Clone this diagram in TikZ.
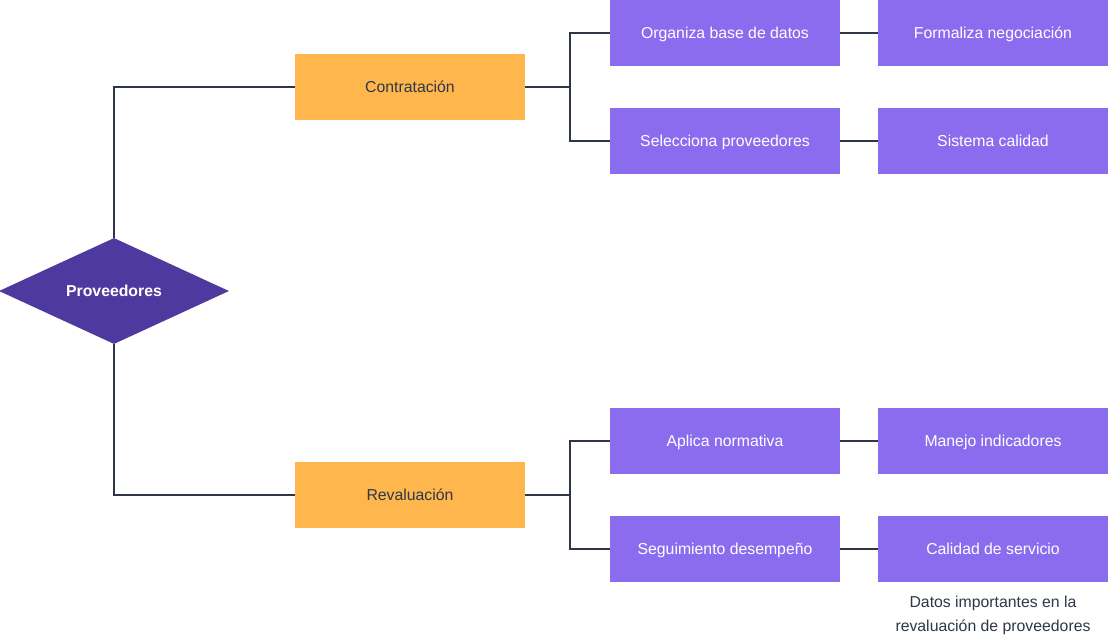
\documentclass[tikz,border=0pt]{standalone}
\usepackage{fontspec}
\setmainfont{Liberation Sans}
\usetikzlibrary{shapes.geometric}
\definecolor{diam}{HTML}{4E3A9E}
\definecolor{purp}{HTML}{8B6CEF}
\definecolor{oran}{HTML}{FFB74D}
\definecolor{lin}{HTML}{2D3748}
\definecolor{txt}{HTML}{2D3748}
\begin{document}
\begin{tikzpicture}[x=1pt,y=-1pt,
  lbl/.style={font=\fontsize{15.8}{19}\selectfont,text height=11pt,text depth=0pt},
  pbox/.style={lbl,fill=purp,minimum width=230pt,minimum height=66pt,inner sep=0pt,text=white},
  obox/.style={lbl,fill=oran,minimum width=230pt,minimum height=66pt,inner sep=0pt,text=txt},
  conn/.style={draw=lin,line width=1.2pt}]
\useasboundingbox (0,0) rectangle (1108,635);
\node[diamond,fill=diam,minimum width=230pt,minimum height=106pt,aspect=2.17,inner sep=0pt] (prov) at (114,291) {};
\node[lbl,text=white,font=\fontsize{15.8}{19}\selectfont\bfseries] (provt) at (114,291) {Proveedores};
\node[obox] (con) at (410,87) {Contratación};
\node[obox] (rev) at (410,495) {Revaluación};
\node[pbox] (org) at (725,33) {Organiza base de datos};
\node[pbox] (sel) at (725,141) {Selecciona proveedores};
\node[pbox] (apl) at (725,441) {Aplica normativa};
\node[pbox] (seg) at (725,549) {Seguimiento desempeño};
\node[pbox] (for) at (993,33) {Formaliza negociación};
\node[pbox] (sis) at (993,141) {Sistema calidad};
\node[pbox] (man) at (993,441) {Manejo indicadores};
\node[pbox] (cal) at (993,549) {Calidad de servicio};
\node[text=txt,font=\fontsize{15.8}{24}\selectfont,align=center,anchor=north] (nota) at (993,593) {Datos importantes en la\\revaluación de proveedores};
\coordinate (cj) at (570,87);
\coordinate (rj) at (570,495);
\draw[conn] (prov.north) |- (con.west);
\draw[conn] (prov.south) |- (rev.west);
\draw[conn] (con.east) -- (cj);
\draw[conn] (cj) |- (org.west);
\draw[conn] (cj) |- (sel.west);
\draw[conn] (rev.east) -- (rj);
\draw[conn] (rj) |- (apl.west);
\draw[conn] (rj) |- (seg.west);
\draw[conn] (org.east) -- (for.west);
\draw[conn] (sel.east) -- (sis.west);
\draw[conn] (apl.east) -- (man.west);
\draw[conn] (seg.east) -- (cal.west);
\end{tikzpicture}
\end{document}
